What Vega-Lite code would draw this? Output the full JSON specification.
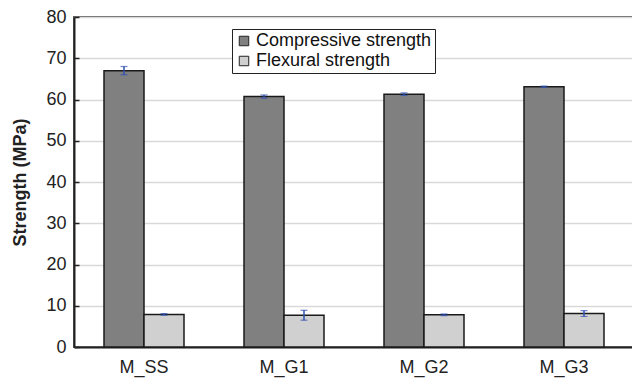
{
  "$schema": "https://vega.github.io/schema/vega-lite/v6.json",
  "width": 560,
  "height": 330,
  "autosize": {"type": "none"},
  "padding": {"left": 74, "top": 17, "right": 0, "bottom": 36},
  "background": "white",
  "config": {"font": "Liberation Sans", "view": {"stroke": "#5a5a5a", "strokeWidth": 2}},
  "data": {
    "values": [
      {"sample": "M_SS", "type": "Compressive strength", "value": 67.0, "lo": 66.0, "hi": 68.0},
      {"sample": "M_SS", "type": "Flexural strength", "value": 7.9, "lo": 7.7, "hi": 8.1},
      {"sample": "M_G1", "type": "Compressive strength", "value": 60.7, "lo": 60.3, "hi": 61.1},
      {"sample": "M_G1", "type": "Flexural strength", "value": 7.7, "lo": 6.5, "hi": 8.9},
      {"sample": "M_G2", "type": "Compressive strength", "value": 61.3, "lo": 61.0, "hi": 61.6},
      {"sample": "M_G2", "type": "Flexural strength", "value": 7.8, "lo": 7.6, "hi": 8.0},
      {"sample": "M_G3", "type": "Compressive strength", "value": 63.1, "lo": 62.95, "hi": 63.25},
      {"sample": "M_G3", "type": "Flexural strength", "value": 8.1, "lo": 7.4, "hi": 8.8}
    ]
  },
  "encoding": {
    "x": {
      "field": "sample",
      "type": "nominal",
      "sort": ["M_SS", "M_G1", "M_G2", "M_G3"],
      "scale": {"paddingInner": 0.4286, "paddingOuter": 0.2143},
      "axis": {
        "title": null,
        "labelAngle": 0,
        "labelFontSize": 18,
        "labelColor": "#222222",
        "labelPadding": 11,
        "ticks": false,
        "domainColor": "#222222",
        "domainWidth": 2,
        "grid": false
      }
    },
    "xOffset": {"field": "type", "type": "nominal", "sort": ["Compressive strength", "Flexural strength"]}
  },
  "layer": [
    {
      "mark": {"type": "bar", "stroke": "#1a1a1a", "strokeWidth": 1.5},
      "encoding": {
        "y": {
          "field": "value",
          "type": "quantitative",
          "scale": {"domain": [0, 80], "nice": false},
          "axis": {
            "title": "Strength (MPa)",
            "titleFontSize": 18,
            "titleFontWeight": "bold",
            "titleColor": "#222222",
            "titlePadding": 16,
            "values": [0, 10, 20, 30, 40, 50, 60, 70, 80],
            "labelFontSize": 18,
            "labelColor": "#222222",
            "tickSize": -5,
            "tickColor": "#222222",
            "tickWidth": 1.5,
            "labelPadding": 13,
            "domainColor": "#222222",
            "domainWidth": 2,
            "gridColor": "#d9d9d9",
            "gridWidth": 1.5
          }
        },
        "fill": {
          "field": "type",
          "type": "nominal",
          "scale": {"domain": ["Compressive strength", "Flexural strength"], "range": ["#808080", "#d0d0d0"]},
          "legend": {
            "title": null,
            "orient": "none",
            "legendX": 158,
            "legendY": 12,
            "direction": "vertical",
            "labelFontSize": 18,
            "labelLimit": 400,
            "labelColor": "#111111",
            "symbolType": "square",
            "symbolSize": 90,
            "symbolStrokeColor": "#222222",
            "symbolStrokeWidth": 1,
            "rowPadding": 2,
            "padding": 3,
            "strokeColor": "#222222",
            "fillColor": "white",
            "labelOffset": 3
          }
        }
      }
    },
    {
      "mark": {"type": "rule", "color": "#3050b0", "strokeWidth": 1.5},
      "encoding": {
        "y": {"field": "lo", "type": "quantitative"},
        "y2": {"field": "hi"}
      }
    },
    {
      "mark": {"type": "tick", "color": "#3050b0", "thickness": 1.2, "size": 7, "orient": "horizontal"},
      "encoding": {"y": {"field": "lo", "type": "quantitative"}}
    },
    {
      "mark": {"type": "tick", "color": "#3050b0", "thickness": 1.2, "size": 7, "orient": "horizontal"},
      "encoding": {"y": {"field": "hi", "type": "quantitative"}}
    }
  ]
}
